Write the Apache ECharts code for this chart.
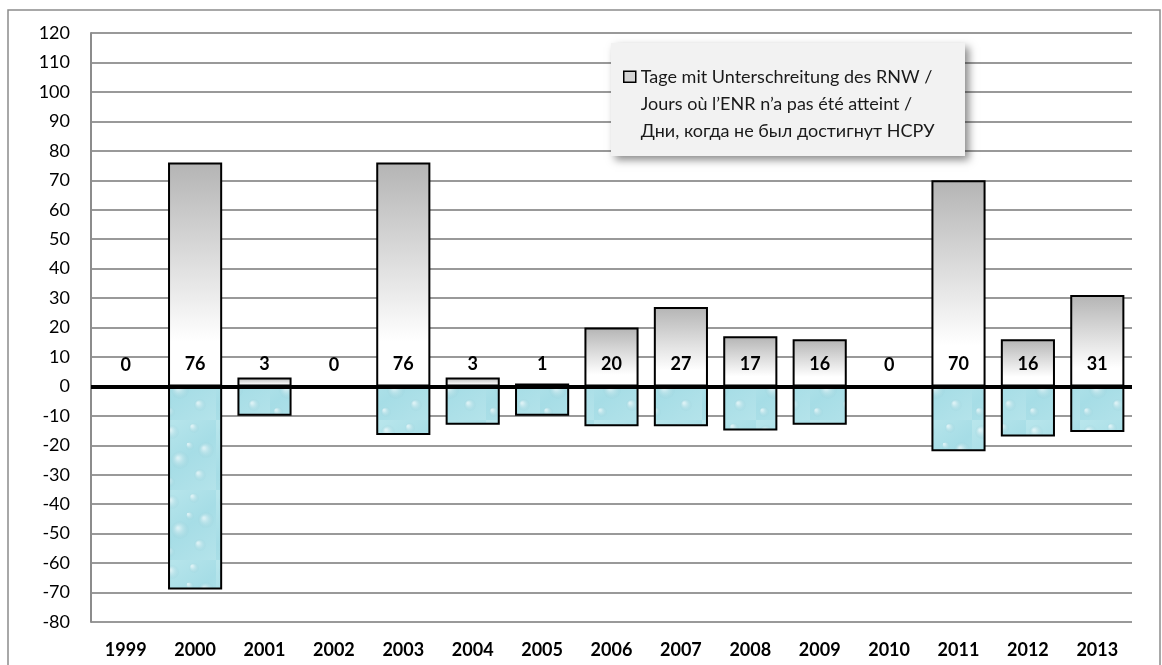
<!DOCTYPE html>
<html>
<head>
<meta charset="utf-8">
<script src="https://cdn.jsdelivr.net/npm/echarts@6/dist/echarts.min.js"></script>
<style>
html,body{margin:0;padding:0;background:#fff;}
#c{width:1162px;height:665px;}
</style>
</head>
<body>
<div id="c"></div>
<script>
const years = ['1999','2000','2001','2002','2003','2004','2005','2006','2007','2008','2009','2010','2011','2012','2013'];
const daysBelow = [0,76,3,0,76,3,1,20,27,17,16,0,70,16,31];
const negValues = [0,-69,-10,0,-16.5,-13,-10,-13.5,-13.5,-15,-13,0,-22,-17,-15.5];
const yTicks = {min:-80, max:120, step:10};
const legendText = 'Tage mit Unterschreitung des RNW /\nJours où l\u2019ENR n\u2019a pas été atteint /\nДни, когда не был достигнут НСРУ';

// decorative water texture for the negative bars
function makeTexture(){
  const c = document.createElement('canvas');
  c.width = 54; c.height = 70;
  const g = c.getContext('2d');
  const lg = g.createLinearGradient(0,0,54,70);
  lg.addColorStop(0,'#b9e6ec');
  lg.addColorStop(0.5,'#a6dde6');
  lg.addColorStop(1,'#b4e3ea');
  g.fillStyle = lg; g.fillRect(0,0,54,70);
  const spots = [[10,12,7],[32,8,5],[44,30,8],[18,40,9],[38,55,6],[8,62,5],[28,26,4]];
  spots.forEach(s=>{
    const rg = g.createRadialGradient(s[0]-2,s[1]-2,1,s[0],s[1],s[2]);
    rg.addColorStop(0,'rgba(255,255,255,0.55)');
    rg.addColorStop(1,'rgba(150,205,215,0.15)');
    g.fillStyle = rg;
    g.beginPath(); g.arc(s[0],s[1],s[2],0,Math.PI*2); g.fill();
  });
  return c;
}

const chart = echarts.init(document.getElementById('c'), null, {renderer:'canvas'});
const FONT = 'Lato';
chart.setOption({
  animation:false,
  backgroundColor:'#fff',
  graphic:[
    {type:'rect', z:0, silent:true, shape:{x:8,y:10,width:1152,height:680},
     style:{fill:'none', stroke:'#8c8c8c', lineWidth:1.5}},
    {type:'rect', z:50, silent:true, shape:{x:611,y:43,width:354,height:113},
     style:{fill:'#f2f2f2', shadowBlur:8, shadowOffsetX:4, shadowOffsetY:4, shadowColor:'rgba(0,0,0,0.45)'}}
  ],
  legend:{
    z:60,
    left:623, top:62.5, padding:0,
    selectedMode:false,
    data:[{name:legendText, icon:'path://M0,0Z M0,8H12V19H0Z M0,81Z'}],
    itemWidth:12, itemHeight:81,
    itemStyle:{color:'#d4d4d4', borderColor:'#000', borderWidth:1.5},
    textStyle:{fontFamily:FONT, fontSize:18, color:'#1a1a1a', lineHeight:27}
  },
  grid:{left:91, right:30, top:33, bottom:43},
  xAxis:{
    type:'category', data:years,
    axisLine:{show:false}, axisTick:{show:false},
    axisLabel:{fontFamily:FONT, fontSize:18, fontWeight:'bold', color:'#000', margin:19}
  },
  yAxis:{
    type:'value', min:yTicks.min, max:yTicks.max, interval:yTicks.step,
    axisLine:{show:true, lineStyle:{color:'#8c8c8c', width:2}},
    axisTick:{show:false},
    axisLabel:{fontFamily:FONT, fontSize:18, color:'#000', margin:21},
    splitLine:{lineStyle:{color:'#999', width:2}}
  },
  series:[
    {
      name:legendText, type:'bar', data:daysBelow,
      barCategoryGap:'22%', barGap:'-100%',
      itemStyle:{
        color:{type:'linear',x:0,y:0,x2:0,y2:1,colorStops:[
          {offset:0,color:'#b4b4b4'},{offset:0.8,color:'#ffffff'},{offset:1,color:'#ffffff'}]},
        borderColor:'#000', borderWidth:2
      },
      label:{show:true, position:'insideBottom', distance:13,
        fontFamily:FONT, fontSize:18, fontWeight:'bold', color:'#000'},
      markLine:{silent:true, symbol:'none', label:{show:false},
        lineStyle:{color:'#000', width:4, type:'solid'},
        data:[{yAxis:0}]},
      z:3
    },
    {
      name:'neg', type:'bar', data:negValues,
      barCategoryGap:'22%', barGap:'-100%',
      itemStyle:{
        color:{image:makeTexture(), repeat:'repeat'},
        borderColor:'#000', borderWidth:2
      },
      z:2
    }
  ]
});
</script>
</body>
</html>
